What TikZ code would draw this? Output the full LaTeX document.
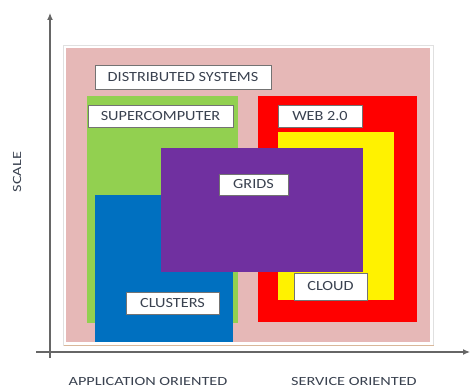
\documentclass[tikz,border=0pt]{standalone}
\usepackage{fontspec}
\setmainfont{Carlito}
\usetikzlibrary{arrows.meta}
\definecolor{pinkbg}{HTML}{E6B8B7}
\definecolor{grn}{HTML}{92D050}
\definecolor{blu}{HTML}{0070C0}
\definecolor{prp}{HTML}{7030A0}
\definecolor{txt}{HTML}{3A4250}
\definecolor{tan}{HTML}{D9B89A}
\newcommand{\wtxt}[1]{\scalebox{1.16}[1]{#1}}
\newcommand{\atxt}[1]{\scalebox{1.3}[1]{#1}}
\tikzset{
  lbl/.style={draw=black!55, line width=0.6pt, fill=white, inner sep=0pt, text=txt, font=\fontsize{14}{14}\selectfont, anchor=center},
  axis/.style={draw=black!60, line width=1.2pt},
  axtxt/.style={text=txt, inner sep=0pt, font=\fontsize{12.5}{12.5}\selectfont}
}
\begin{document}
\begin{tikzpicture}[x=1pt,y=-1pt]
\useasboundingbox (0,0) rectangle (470,387);
% background frame
\draw[black!12, line width=0.8pt] (63,45) rectangle (433,345);
\draw[tan, line width=1pt] (64,345) -- (434,345);
\fill[pinkbg] (66,48) rectangle (430,342);
% colored regions
\fill[grn] (87,96) rectangle (238,323);
\fill[blu] (95,195) rectangle (233,342);
\fill[red] (258,96) rectangle (417,322);
\fill[yellow] (278,132) rectangle (394,300);
\fill[prp] (161,148) rectangle (363,272);
% labels
\node[lbl, minimum width=176pt, minimum height=24pt] (ds) at (183,77) {\wtxt{DISTRIBUTED SYSTEMS}};
\node[lbl, minimum width=145pt, minimum height=22pt] (sc) at (160.5,116) {\wtxt{SUPERCOMPUTER}};
\node[lbl, minimum width=84pt, minimum height=22pt] (web) at (320,116) {\wtxt{WEB 2.0}};
\node[lbl, minimum width=69pt, minimum height=21pt] (grids) at (253.5,184.5) {\wtxt{GRIDS}};
\node[lbl, minimum width=73pt, minimum height=27pt] (cloud) at (330.5,286.5) {\wtxt{CLOUD}};
\node[lbl, minimum width=93pt, minimum height=22pt] (clus) at (172.5,303) {\wtxt{CLUSTERS}};
% axes
\coordinate (ytop) at (50,13);
\coordinate (ybot) at (50,358);
\coordinate (xl) at (36,352);
\coordinate (xr) at (470,352);
\draw[axis, -{Latex[length=7pt,width=6pt]}] (ybot) -- (ytop);
\draw[axis, -{Latex[length=7pt,width=6pt]}] (xl) -- (xr);
\node[axtxt, rotate=90] (scale) at (17,172) {\atxt{SCALE}};
\node[axtxt] (app) at (148,381) {\atxt{APPLICATION ORIENTED}};
\node[axtxt] (serv) at (354,381) {\atxt{SERVICE ORIENTED}};
\end{tikzpicture}
\end{document}
